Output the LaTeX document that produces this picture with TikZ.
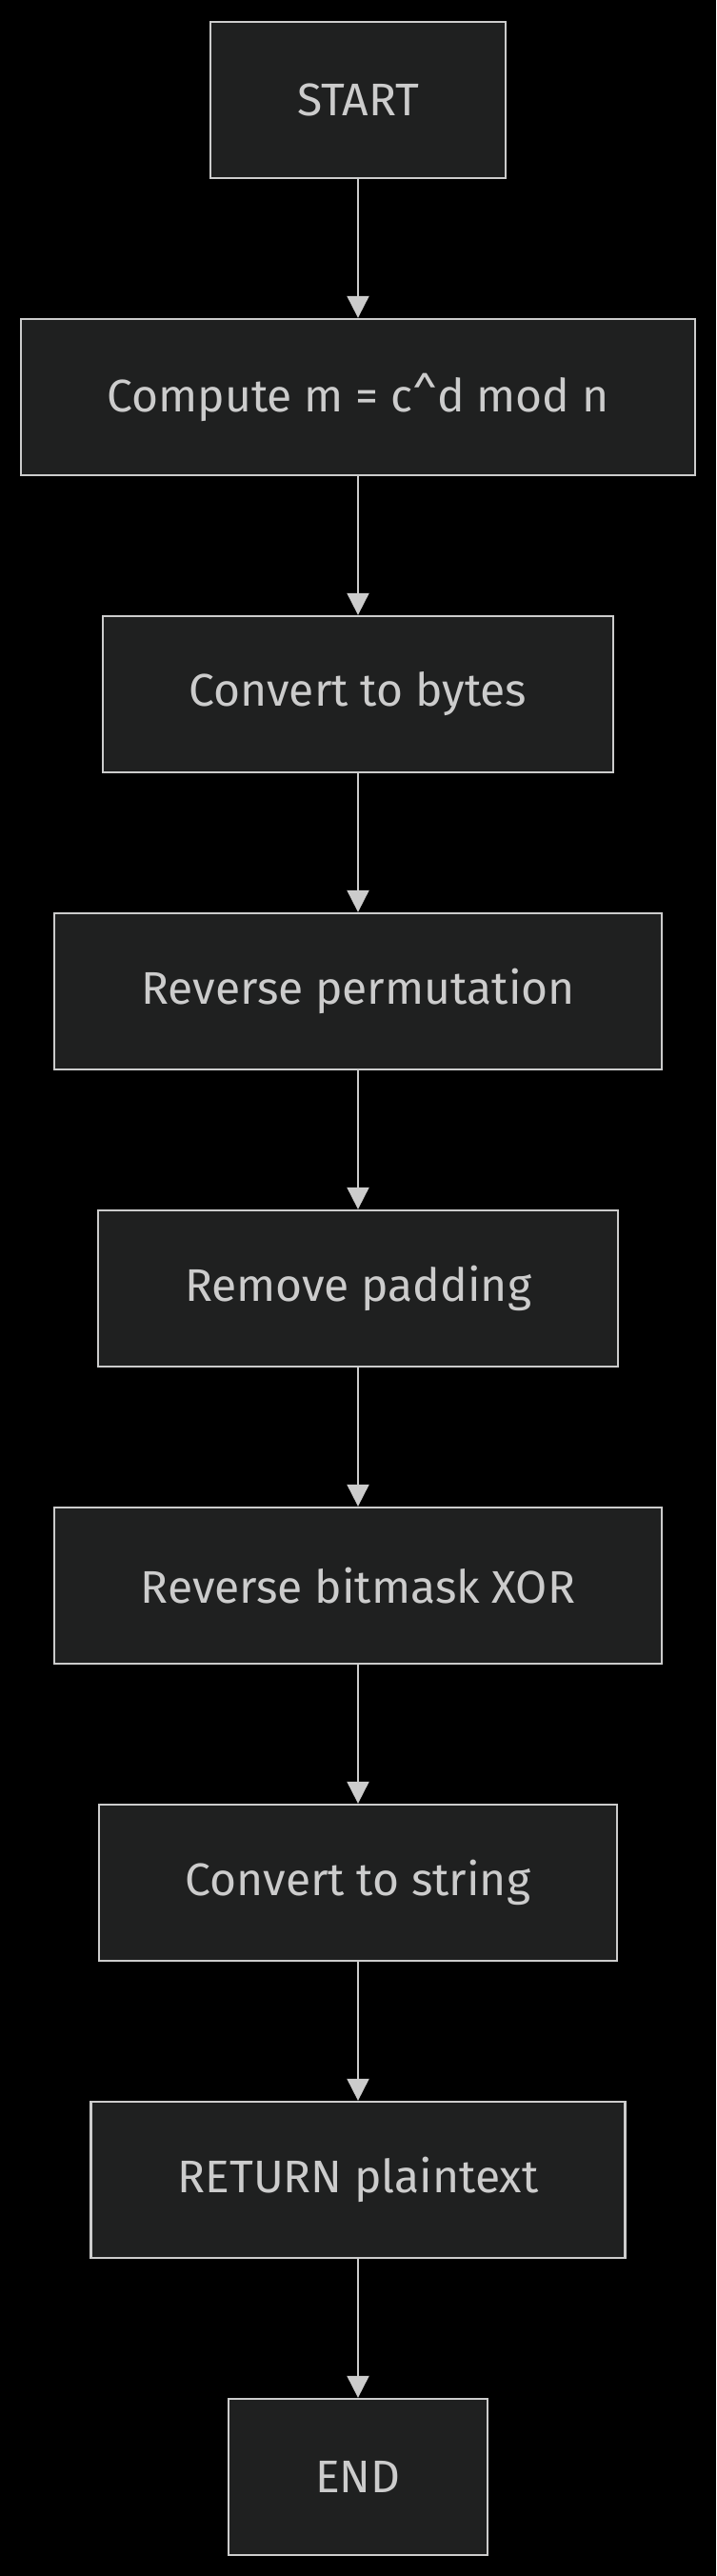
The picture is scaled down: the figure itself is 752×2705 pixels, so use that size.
\documentclass[tikz,border=0pt]{standalone}
\usepackage{fontspec}
\setmainfont{Fira Sans}
\usepackage{tikz}
\usetikzlibrary{arrows.meta,positioning}
\definecolor{boxfill}{HTML}{1F2020}
\definecolor{boxline}{HTML}{CCCCCC}
\definecolor{boxtext}{HTML}{CCCCCC}

\begin{document}
\begin{tikzpicture}[x=1pt,y=-1pt,>={Triangle[width=23pt,length=23pt]},
  stepbox/.style={draw=boxline,fill=boxfill,line width=2.3pt,text=boxtext,
    minimum height=164pt,inner xsep=91pt,inner ysep=0pt,
    font=\fontsize{48}{56}\selectfont},
  flow/.style={->,draw=boxline,line width=2pt},
  node distance=145.7pt]
  \fill[black] (0,0) rectangle (752,2705);
  \useasboundingbox (0,0) rectangle (752,2705);
  \node[stepbox] (start) at (376,105) {START};
  \node[stepbox,below=of start] (compute) {Compute m = c\textasciicircum d mod n};
  \node[stepbox,below=of compute] (bytes) {Convert to bytes};
  \node[stepbox,below=of bytes] (perm) {Reverse permutation};
  \node[stepbox,below=of perm] (unpad) {Remove padding};
  \node[stepbox,below=of unpad] (unxor) {Reverse bitmask XOR};
  \node[stepbox,below=of unxor] (tostr) {Convert to string};
  \node[stepbox,below=of tostr] (ret) {RETURN plaintext};
  \node[stepbox,below=of ret] (stop) {END};
  \draw[flow] (start) -- (compute);
  \draw[flow] (compute) -- (bytes);
  \draw[flow] (bytes) -- (perm);
  \draw[flow] (perm) -- (unpad);
  \draw[flow] (unpad) -- (unxor);
  \draw[flow] (unxor) -- (tostr);
  \draw[flow] (tostr) -- (ret);
  \draw[flow] (ret) -- (stop);
\end{tikzpicture}
\end{document}
